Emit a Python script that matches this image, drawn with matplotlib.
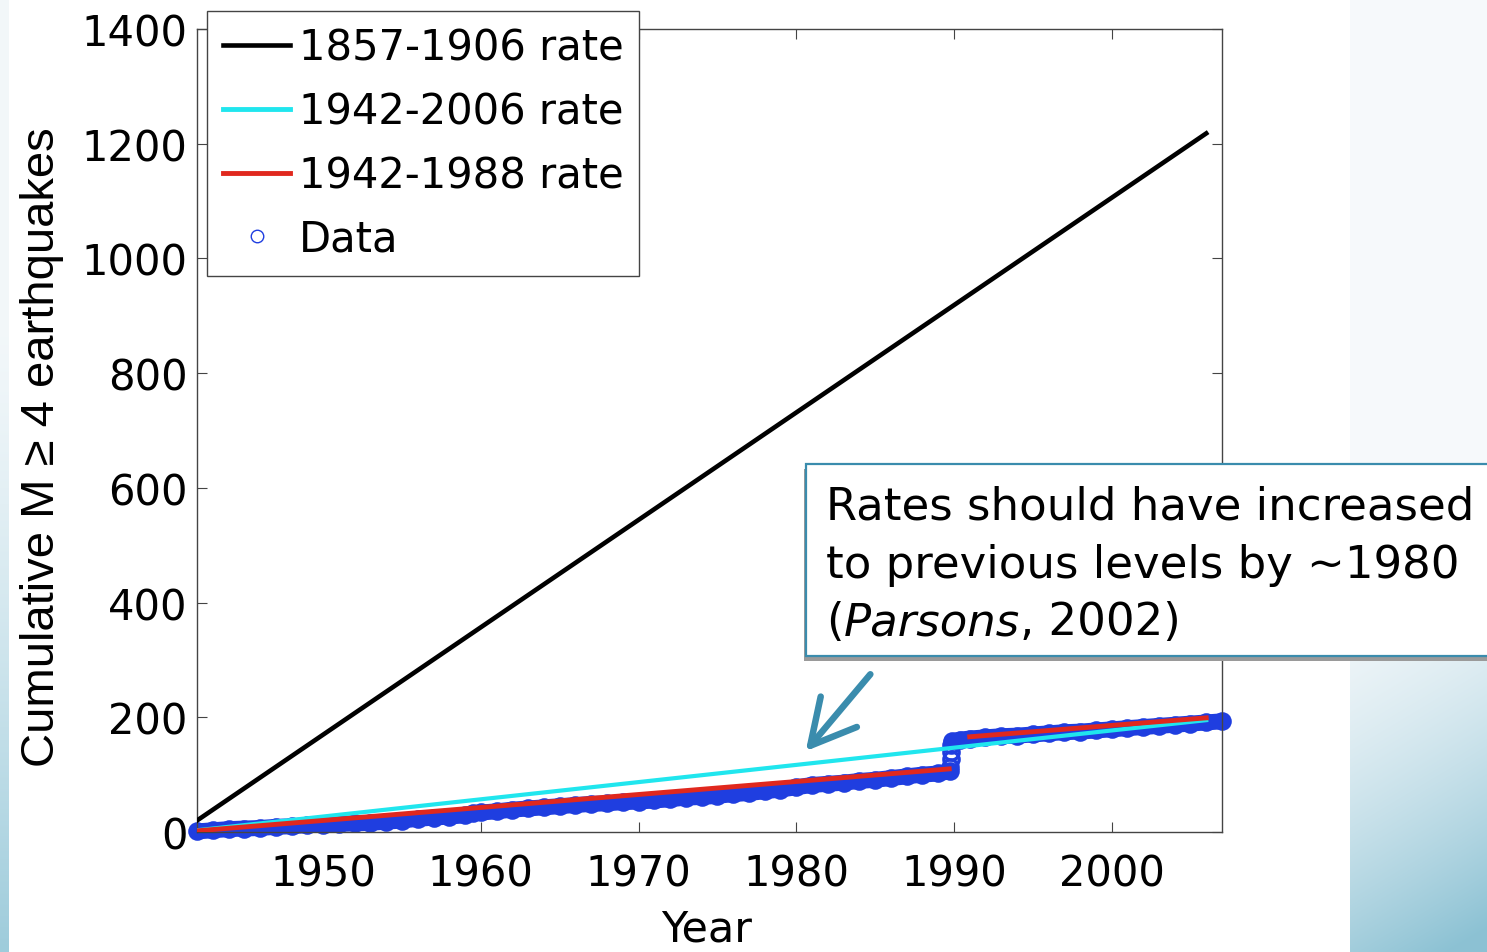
import numpy as np
import matplotlib.pyplot as plt
from matplotlib.lines import Line2D
from matplotlib.patches import Rectangle

W, H = 1487, 953

# cumulative count of M>=4 earthquakes
data_year = [1942, 1943, 1944, 1945, 1946, 1947, 1948, 1949, 1950, 1951,
             1952, 1953, 1954, 1955, 1956, 1957, 1958, 1959, 1959.5, 1960,
             1961, 1962, 1963, 1964, 1965, 1966, 1967, 1968, 1969, 1970,
             1971, 1972, 1973, 1974, 1975, 1976, 1977, 1978, 1979, 1980,
             1981, 1982, 1983, 1984, 1985, 1986, 1987, 1988, 1989, 1989.75,
             1989.78, 1989.79, 1989.8, 1989.81,
             1989.85, 1990.4, 1991, 1992, 1993, 1994, 1995, 1996, 1997, 1998,
             1999, 2000, 2001, 2002, 2003, 2004, 2005, 2006, 2007]
data_count = [1, 3, 5, 6, 7, 9, 10, 12, 13, 14,
              15, 16, 18, 20, 23, 25, 27, 29, 33, 34,
              36, 39, 41, 43, 45, 47, 49, 50, 52, 53,
              55, 57, 60, 61, 63, 66, 68, 71, 74, 78,
              82, 84, 86, 89, 91, 94, 97, 100, 102, 106,
              113, 127, 140, 152,
              158, 161, 163, 165, 167, 168, 170, 172, 174, 175,
              177, 179, 181, 183, 185, 187, 189, 191, 193]

# rate lines
black_year = [1942, 2006]
black_count = [20, 1218]
cyan_year = [1942, 2006]
cyan_count = [3, 195]
red_year = [1942, 1989.7, np.nan, 1991, 2006]
red_count = [2, 110, np.nan, 166, 199]

labels = ['1857-1906 rate', '1942-2006 rate', '1942-1988 rate', 'Data']
x_ticks = [1950, 1960, 1970, 1980, 1990, 2000]
y_ticks = [0, 200, 400, 600, 800, 1000, 1200, 1400]

teal = '#3a8cad'
blue = '#1f3ee0'

plt.rcParams['font.family'] = ['DejaVu Sans']

fig = plt.figure(figsize=(W / 100, H / 100), dpi=100)
fig.patch.set_facecolor('white')

# slide background: pale panel on the right, thin strip on the left
yy, xx = np.mgrid[0:H, 0:W].astype(float)
img = np.ones((H, W, 3))
right = xx >= 1350
t = np.clip((yy - 540 + 0.6 * (xx - 1350)) / 470, 0, 1) ** 1.7
top_c = np.array([0.965, 0.977, 0.985])
bot_c = np.array([0.55, 0.76, 0.83])
panel = top_c * (1 - t[..., None]) + bot_c * t[..., None]
img[right] = panel[right]
left = xx < 9
t2 = np.clip((yy - 330) / 620, 0, 1) ** 1.3
strip = np.array([0.95, 0.97, 0.98]) * (1 - t2[..., None]) + np.array([0.62, 0.80, 0.86]) * t2[..., None]
img[left] = strip[left]
bg = fig.add_axes([0, 0, 1, 1], zorder=-10)
bg.imshow(img, extent=[0, W, H, 0], aspect='auto', interpolation='bilinear')
bg.axis('off')

ax = fig.add_axes([197 / W, 1 - 833 / H, (1222 - 197) / W, (833 - 30) / H])

yr = np.array(data_year)
ct = np.array(data_count, dtype=float)
pre = yr < 1989.77
post = yr > 1989.84
ax.plot(yr[pre], ct[pre], color=blue, lw=11.5, solid_capstyle='round', clip_on=False, zorder=2)
ax.plot(yr[post], ct[post], color=blue, lw=11.5, solid_capstyle='round', clip_on=False, zorder=2)
ax.plot(yr, ct, 'o', color=blue, ms=11, mew=2.4, mfc='none', clip_on=False, zorder=2)

ax.plot(black_year, black_count, color='black', lw=3.3, zorder=3)
ax.plot(cyan_year, cyan_count, color='#20e6ee', lw=3, zorder=4)
ax.plot(red_year, red_count, color='#e0281e', lw=3.5, zorder=5)

ax.set_xlim(1942, 2007)
ax.set_ylim(0, 1400)
ax.set_xticks(x_ticks)
ax.set_yticks(y_ticks)
ax.tick_params(direction='in', length=7, width=0.8, color='#444444', top=True, right=True,
               labelsize=30)
ax.tick_params(axis='x', pad=15)
ax.tick_params(axis='y', pad=7)
for s in ax.spines.values():
    s.set_color('#444444')
    s.set_linewidth(1)

fig.text(707 / W, 1 - 930 / H, 'Year', fontsize=31, ha='center', va='center')
fig.text(42 / W, 1 - 447 / H, 'Cumulative M \u2265 4 earthquakes', fontsize=34,
         family=['Liberation Sans', 'DejaVu Sans'],
         rotation=90, ha='center', va='center')

handles = [Line2D([], [], color='black', lw=3.3),
           Line2D([], [], color='#20e6ee', lw=3.5),
           Line2D([], [], color='#e0281e', lw=3.5),
           Line2D([], [], marker='o', ls='none', color=blue, ms=9, mew=1, mfc='none')]
leg = ax.legend(handles, labels, loc='upper left', bbox_to_anchor=(207 / W, 1 - 12 / H),
                bbox_transform=fig.transFigure, borderaxespad=0, fontsize=30,
                fancybox=False, framealpha=1, edgecolor='#444444', borderpad=0.38,
                labelspacing=0.52, handlelength=1.62, handletextpad=0.2, numpoints=1)
leg.get_frame().set_linewidth(1)
leg.set_zorder(10)

# callout box with arrow
shadow = Rectangle(((806 - 2) / W, 1 - (657 + 5) / H), (1500 - 806) / W, (657 - 465) / H,
                   transform=fig.transFigure, facecolor='#9a9a9a', edgecolor='none', zorder=20)
box = Rectangle((806 / W, 1 - 657 / H), (1500 - 806) / W, (657 - 465) / H,
                transform=fig.transFigure, facecolor='white', edgecolor=teal, lw=1.6, zorder=21)
fig.add_artist(shadow)
fig.add_artist(box)

fs = 32.4
fig.text(826 / W, 1 - 520 / H, 'Rates should have increased', fontsize=fs, va='baseline', zorder=22)
fig.text(826 / W, 1 - 578 / H, 'to previous levels by ~1980', fontsize=fs, va='baseline', zorder=22)
fig.canvas.draw()
r = fig.canvas.get_renderer()
x = 826
for piece, style in [('(', 'normal'), ('Parsons', 'italic'), (', 2002)', 'normal')]:
    tx = fig.text(x / W, 1 - 635 / H, piece, fontsize=fs, style=style, va='baseline', zorder=22)
    x = tx.get_window_extent(r).x1

ax.annotate('', xy=(1980.6, 141), xytext=(1984.7, 275),
            arrowprops=dict(arrowstyle='->,head_length=1.6,head_width=0.85', lw=4.7,
                            color=teal, mutation_scale=20, shrinkA=0, shrinkB=0),
            annotation_clip=False, zorder=6)

fig.savefig('out.png', dpi=100)
